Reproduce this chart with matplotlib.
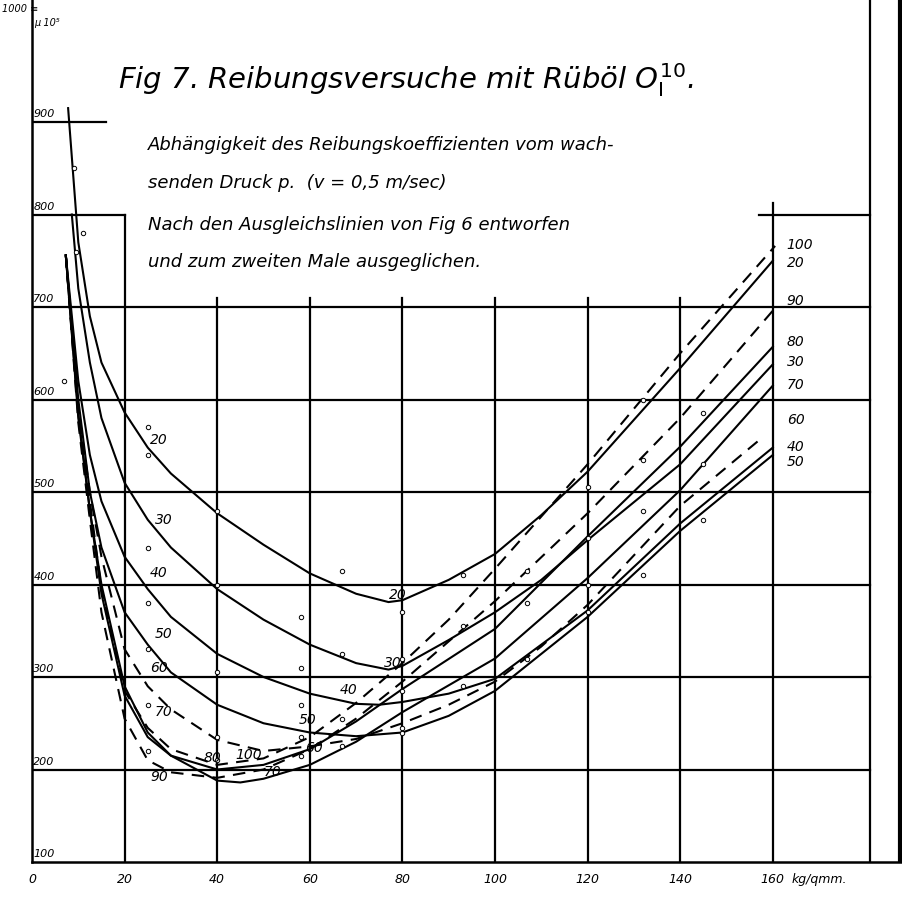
import matplotlib
matplotlib.use("Agg")
import matplotlib.pyplot as plt

# pressure kg/qmm (x) vs friction coefficient (y, x10^-5) per temperature
curves = {
    "20": ([7.8, 10, 12.5, 15, 20, 25, 30, 40, 50, 60, 70, 77, 80, 90, 100, 110, 120, 140, 160],
           [915, 770, 690, 640, 586, 548, 520, 477, 443, 412, 390, 381, 383, 405, 433, 475, 522, 634, 750]),
    "30": ([8.6, 10, 12.5, 15, 20, 25, 30, 40, 50, 60, 70, 77, 80, 90, 100, 110, 120, 140, 160],
           [800, 720, 640, 580, 510, 470, 440, 395, 362, 335, 315, 308, 312, 340, 370, 405, 448, 530, 638]),
    "40": ([7.3, 10, 12.5, 15, 20, 25, 30, 40, 50, 60, 70, 75, 80, 90, 100, 120, 140, 160],
           [756, 620, 540, 490, 430, 395, 365, 325, 300, 282, 271, 270, 273, 282, 298, 372, 466, 548]),
    "50": ([7.3, 10, 12.5, 15, 20, 25, 30, 40, 50, 60, 70, 80, 90, 100, 120, 140, 160],
           [756, 600, 500, 440, 370, 335, 305, 270, 250, 240, 236, 240, 258, 285, 365, 458, 540]),
    "60": ([7.3, 10, 12.5, 15, 20, 25, 30, 40, 50, 60, 70, 80, 90, 100, 110, 120, 140, 158],
           [756, 590, 500, 430, 330, 290, 265, 232, 220, 225, 233, 250, 270, 295, 333, 378, 485, 560]),
    "70": ([7.3, 10, 12.5, 15, 20, 25, 30, 40, 45, 50, 60, 70, 80, 100, 120, 140, 160],
           [756, 580, 480, 400, 290, 240, 215, 188, 186, 190, 205, 230, 262, 320, 407, 502, 615]),
    "80": ([7.3, 10, 12.5, 15, 20, 25, 30, 40, 50, 60, 70, 80, 100, 120, 140, 160],
           [756, 585, 480, 390, 280, 235, 215, 200, 205, 222, 252, 287, 352, 452, 549, 657]),
    "90": ([7.3, 10, 12.5, 15, 20, 25, 30, 40, 50, 60, 70, 80, 100, 120, 140, 160],
           [756, 575, 470, 370, 255, 210, 197, 191, 200, 222, 255, 295, 382, 477, 580, 696]),
    "100": ([7.3, 10, 12.5, 15, 20, 25, 30, 40, 50, 60, 70, 80, 90, 100, 120, 140, 160.5],
            [756, 590, 490, 395, 285, 245, 222, 205, 212, 235, 272, 315, 362, 417, 530, 650, 766]),
}
dashed = ["60", "90", "100"]

points_x = [7, 9, 9.5, 11, 25, 25, 25, 25, 25, 25, 25, 40, 40, 40, 40, 40, 58, 58, 58, 58, 58, 67, 67, 67, 67,
            80, 80, 80, 80, 80, 93, 93, 93, 107, 107, 107, 120, 120, 120, 120, 132, 132, 132, 132, 145, 145, 145]
points_y = [620, 850, 760, 780, 570, 540, 440, 380, 330, 270, 220, 480, 400, 305, 235, 210, 365, 310, 270, 235, 215,
            415, 325, 255, 225, 370, 320, 285, 245, 240, 410, 355, 290, 415, 380, 320, 505, 450, 400, 370,
            600, 535, 480, 410, 585, 530, 470]

left_labels = [("20", 25.5, 556), ("30", 26.6, 470), ("40", 25.5, 412), ("50", 26.6, 347), ("60", 25.5, 310),
               ("70", 26.6, 262), ("90", 25.5, 192), ("80", 37, 212), ("100", 44, 216), ("70", 50, 197),
               ("20", 77, 389), ("30", 76, 315), ("40", 66.5, 286), ("50", 57.5, 253), ("60", 59, 223)]
right_labels = [("100", 767), ("20", 748), ("90", 706), ("80", 662), ("30", 641), ("70", 616), ("60", 578),
                ("40", 549), ("50", 532)]
xticks = [0, 20, 40, 60, 80, 100, 120, 140, 160]
yticks = [100, 200, 300, 400, 500, 600, 700, 800, 900, 1000]

W, H = 902, 900
fig = plt.figure(figsize=(W / 100, H / 100), dpi=100)
ax = fig.add_axes([32 / W, 38 / H, 1 - 32 / W, 862 / H])
ax.set_xlim(0, (W - 32) / 4.63)
ax.set_ylim(100, 100 + 862 / 0.925)
for s in ["top", "right"]:
    ax.spines[s].set_visible(False)
for s in ["left", "bottom"]:
    ax.spines[s].set_linewidth(1.8)
ax.set_xticks([]); ax.set_yticks([])

lk = dict(color="black", lw=1.6, zorder=1)
for y in [200, 300, 400, 500, 600, 700]:
    ax.plot([0, 181], [y, y], **lk)
ax.plot([0, 20], [800, 800], **lk); ax.plot([157, 181], [800, 800], **lk)
ax.plot([0, 16], [900, 900], **lk)
ax.plot([20, 20], [100, 800], **lk)
for x in [40, 60, 80, 100, 120, 140]:
    ax.plot([x, x], [100, 710], **lk)
ax.plot([160, 160], [100, 812], **lk)
ax.plot([181, 181], [100, 1032], **lk)
ax.plot([187.5, 187.5], [100, 1032], color="black", lw=3)

for name, (xs, ys) in curves.items():
    ax.plot(xs, ys, color="black", lw=1.5, ls=(0, (6, 4)) if name in dashed else "-", zorder=3)
ax.scatter(points_x, points_y, s=10, facecolors="white", edgecolors="black", linewidths=0.7, zorder=4)

fs = dict(fontsize=10, style="italic", color="black", zorder=5)
for t, x, y in left_labels:
    ax.text(x, y, t, ha="left", va="center", **fs)
for t, y in right_labels:
    ax.text(163, y, t, ha="left", va="center", **fs)

for v in xticks:
    ax.text(v, 100 - 12, str(v), ha="center", va="top", fontsize=9, style="italic")
ax.text(164, 100 - 12, "kg/qmm.", ha="left", va="top", fontsize=9, style="italic")
for v in yticks:
    if v == 1000:
        continue
    ax.text(0.3, v + 3, str(v), ha="left", va="bottom", fontsize=8, style="italic")
fig.text(2 / W, 1 - 4 / H, "1000 ≡", ha="left", va="top", fontsize=7, style="italic")
fig.text(34 / W, 1 - 18 / H, "μ 10⁵", ha="left", va="top", fontsize=7, style="italic")

fig.text(118 / W, 1 - 80 / H, r"Fig 7. Reibungsversuche mit Rüböl $O_{\mathrm{I}}^{10}$.",
         ha="left", va="center", fontsize=21, style="italic")
fig.text(148 / W, 1 - 145 / H, "Abhängigkeit des Reibungskoeffizienten vom wach-",
         ha="left", va="center", fontsize=13, style="italic")
fig.text(148 / W, 1 - 183 / H, "senden Druck p.  (v = 0,5 m/sec)",
         ha="left", va="center", fontsize=13, style="italic")
fig.text(148 / W, 1 - 225 / H, "Nach den Ausgleichslinien von Fig 6 entworfen",
         ha="left", va="center", fontsize=13, style="italic")
fig.text(148 / W, 1 - 262 / H, "und zum zweiten Male ausgeglichen.",
         ha="left", va="center", fontsize=13, style="italic")

fig.savefig("out.png", dpi=100, facecolor="white")
